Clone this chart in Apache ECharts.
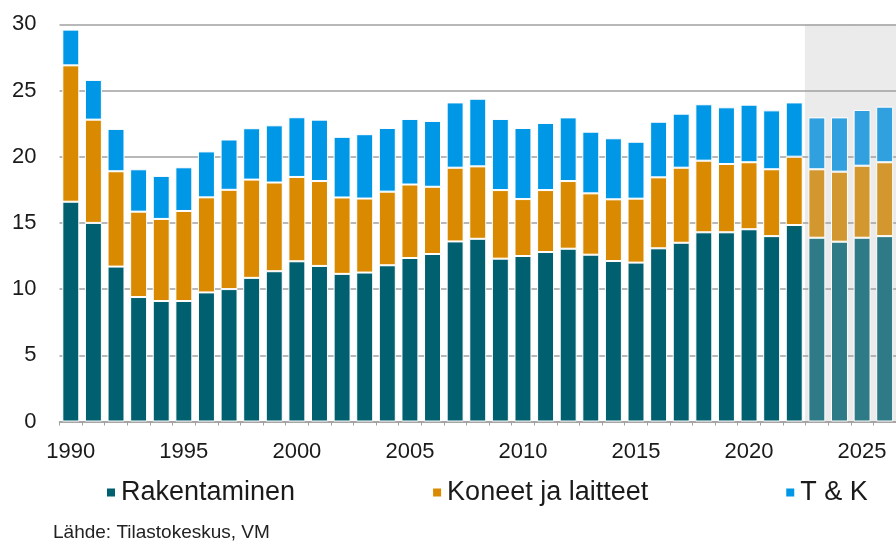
<!DOCTYPE html>
<html>
<head>
<meta charset="utf-8">
<script src="https://cdn.jsdelivr.net/npm/echarts@6/dist/echarts.min.js"></script>
<style>
html,body{margin:0;padding:0;background:#fff;}
#chart{width:896px;height:542px;}
</style>
</head>
<body>
<div id="chart"></div>
<script>
var years = ['1990','1991','1992','1993','1994','1995','1996','1997','1998','1999',
  '2000','2001','2002','2003','2004','2005','2006','2007','2008','2009',
  '2010','2011','2012','2013','2014','2015','2016','2017','2018','2019',
  '2020','2021','2022','2023','2024','2025','2026'];
var rakentaminen = [16.6,15.0,11.7,9.4,9.1,9.1,9.75,10.0,10.85,11.35,
  12.1,11.75,11.15,11.25,11.8,12.35,12.65,13.6,13.8,12.3,
  12.5,12.8,13.05,12.6,12.12,12.0,13.08,13.5,14.29,14.29,
  14.52,14.0,14.84,13.88,13.58,13.88,14.0];
var koneet = [10.3,7.8,7.2,6.45,6.2,6.8,7.18,7.5,7.42,6.7,
  6.37,6.41,5.77,5.59,5.56,5.55,5.08,5.57,5.47,5.18,
  4.3,4.68,5.11,4.63,4.66,4.83,5.36,5.67,5.41,5.16,
  5.06,5.05,5.16,5.17,5.29,5.44,5.58];
var tk = [2.7,3.0,3.2,3.2,3.25,3.3,3.47,3.8,3.88,4.32,
  4.51,4.64,4.58,4.86,4.81,4.95,4.97,4.93,5.11,5.37,
  5.37,5.07,4.81,4.66,4.61,4.3,4.2,4.08,4.26,4.28,
  4.35,4.45,4.1,3.92,4.1,4.21,4.2];
var forecastStart = '2023';
var seriesNames = ['Rakentaminen','Koneet ja laitteet','T & K'];
var yTicks = [0,5,10,15,20,25,30];
var sourceText = 'Lähde: Tilastokeskus, VM';

var colors = ['#00606f','#d98a00','#0097e6'];
var forecastColors = ['#2e7a86','#d2982f','#30a0df'];
var FONT = '"Liberation Sans", Arial, sans-serif';
var fIdx = years.indexOf(forecastStart);

function build(arr, k){
  return arr.map(function(v,i){
    if(i >= fIdx) return {value:v, itemStyle:{color:forecastColors[k]}};
    return v;
  });
}
var bg = years.map(function(y,i){ return i >= fIdx ? yTicks[yTicks.length-1] : '-'; });

var chart = echarts.init(document.getElementById('chart'), null, {renderer:'canvas'});
var barBase = {type:'bar', stack:'total', barCategoryGap:'25%', z:3,
  emphasis:{disabled:true}};
var option = {
  animation:false,
  textStyle:{fontFamily:FONT},
  grid:{left:59.5, top:24.3, width:840, height:397.2},
  legend:{
    data:seriesNames, left:100, top:474, itemWidth:10, itemHeight:10, itemGap:136,
    icon:'rect', textStyle:{fontSize:27, color:'#1a1a1a', fontFamily:FONT}
  },
  graphic:[{type:'text', left:53, top:523, style:{text:sourceText, fontSize:19, fill:'#222', fontFamily:FONT}}],
  xAxis:[{
    type:'category', data:years, z:2,
    axisLine:{lineStyle:{color:'#a0a0a0', width:1.5}},
    axisTick:{show:true, alignWithLabel:false, interval:0, length:4, lineStyle:{color:'#a0a0a0'}},
    axisLabel:{interval:4, fontSize:22, color:'#1a1a1a', margin:19, fontFamily:FONT}
  },{
    type:'category', data:years, show:false
  }],
  yAxis:{
    type:'value', min:0, max:30, interval:5, z:2,
    axisLine:{show:false}, axisTick:{show:false},
    axisLabel:{fontSize:22, color:'#1a1a1a', margin:23, fontFamily:FONT},
    splitLine:{lineStyle:{color:'#a0a0a0', width:1.5}}
  },
  series:[
    {type:'bar', xAxisIndex:1, data:bg, barWidth:'106%', silent:true, z:1,
     itemStyle:{color:'#ebebeb'}, emphasis:{disabled:true}},
    Object.assign({}, barBase, {name:seriesNames[0], data:build(rakentaminen,0), itemStyle:{color:colors[0], borderColor:'#fff', borderWidth:1}}),
    Object.assign({}, barBase, {name:seriesNames[1], data:build(koneet,1), itemStyle:{color:colors[1], borderColor:'#fff', borderWidth:1}}),
    Object.assign({}, barBase, {name:seriesNames[2], data:build(tk,2), itemStyle:{color:colors[2], borderColor:'#fff', borderWidth:1}})
  ]
};
chart.setOption(option);
</script>
</body>
</html>
